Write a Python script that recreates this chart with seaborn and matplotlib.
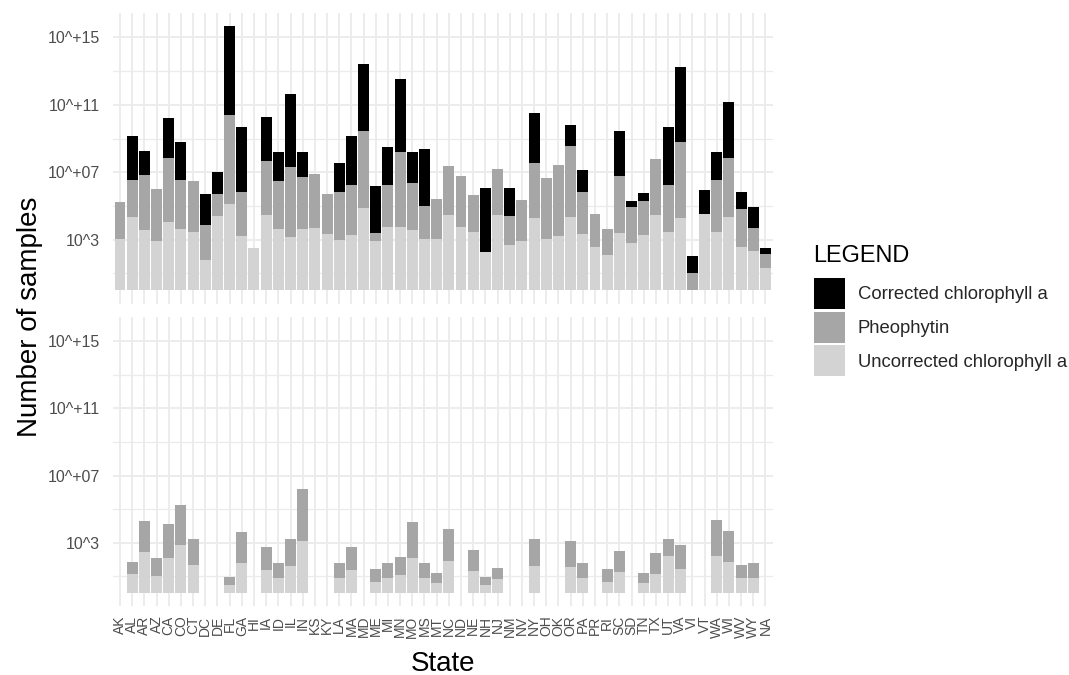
import numpy as np
import pandas as pd
import matplotlib
matplotlib.use("Agg")
import matplotlib.pyplot as plt
from matplotlib.patches import Patch
import seaborn as sns

# ---------------- data (log10 of sample counts per segment) ----------------
states = ["AK", "AL", "AR", "AZ", "CA", "CO", "CT", "DC", "DE", "FL", "GA", "HI",
          "IA", "ID", "IL", "IN", "KS", "KY", "LA", "MA", "MD", "ME", "MI", "MN",
          "MO", "MS", "MT", "NC", "ND", "NE", "NH", "NJ", "NM", "NV", "NY", "OH",
          "OK", "OR", "PA", "PR", "RI", "SC", "SD", "TN", "TX", "UT", "VA", "VI",
          "VT", "WA", "WI", "WV", "WY", "NA"]
nan = np.nan
# top panel
top_uncorrected = [3.03, 4.37, 3.58, 2.93, 4.07, 3.66, 3.48, 1.82, 4.43, 5.12, 3.22, 2.51,
                   4.49, 3.62, 3.16, 3.66, 3.72, 3.32, 2.99, 3.28, 4.88, 2.91, 3.76, 3.76,
                   3.56, 3.04, 3.03, 4.47, 3.76, 3.48, 2.26, 4.47, 2.69, 2.94, 4.27, 3.03,
                   3.22, 4.37, 3.32, 2.59, 2.08, 3.42, 2.81, 3.28, 4.45, 3.48, 4.29, nan,
                   4.55, 3.46, 4.37, 2.59, 2.33, 1.34]
top_pheophytin = [2.23, 2.16, 3.26, 3.06, 3.76, 2.90, 2.99, 2.04, 1.29, 5.27, 2.60, nan,
                  3.20, 2.85, 4.18, 3.08, 3.20, 2.40, 2.83, 2.95, 4.59, 0.47, 2.51, 4.43,
                  2.81, 1.96, 2.39, 2.89, 3.04, 2.16, nan, 2.71, 1.72, 2.40, 3.27, 3.62,
                  4.22, 4.21, 2.50, 1.92, 1.58, 3.35, 2.15, 2.02, 3.34, 2.77, 4.49, 1.01,
                  nan, 3.10, 3.46, 2.25, 1.39, 0.81]
top_corrected = [nan, 2.63, 1.43, nan, 2.38, 2.26, nan, 1.86, 1.28, 5.28, 3.89, nan,
                 2.58, 1.76, 4.31, 1.49, nan, nan, 1.73, 2.95, 3.98, 2.83, 2.22, 4.35,
                 1.82, 3.37, nan, nan, nan, nan, 3.79, nan, 1.64, nan, 2.96, nan,
                 nan, 1.23, 1.32, nan, nan, 2.70, 0.32, 0.49, nan, 3.42, 4.49, 1.01,
                 1.38, 1.63, 3.33, 0.99, 1.21, 0.34]
# bottom panel
bot_uncorrected = [nan, 1.13, 2.43, 1.03, 2.07, 2.87, 1.65, nan, nan, 0.48, 1.81, nan,
                   1.37, 0.90, 1.61, 3.12, nan, nan, 0.90, 1.37, nan, 0.68, 0.90, 1.09,
                   2.09, 0.90, 0.60, 1.91, nan, 1.33, 0.48, 0.80, nan, nan, 1.61, nan,
                   nan, 1.57, 0.90, nan, 0.68, 1.25, nan, 0.60, 1.15, 2.21, 1.45, nan,
                   nan, 2.21, 1.85, 0.86, 0.90, nan]
bot_pheophytin = [nan, 0.74, 1.85, 1.06, 2.01, 2.38, 1.59, nan, nan, 0.49, 1.83, nan,
                  1.36, 0.91, 1.63, 3.05, nan, nan, 0.91, 1.36, nan, 0.73, 0.91, 1.06,
                  2.13, 0.91, 0.58, 1.89, nan, 1.24, 0.49, 0.67, nan, nan, 1.63, nan,
                  nan, 1.55, 0.91, nan, 0.73, 1.26, nan, 0.59, 1.22, 1.01, 1.40, nan,
                  nan, 2.15, 1.87, 0.81, 0.91, nan]

legend_labels = ["Corrected chlorophyll a", "Pheophytin", "Uncorrected chlorophyll a"]
colors = {"Corrected chlorophyll a": "#000000",
          "Pheophytin": "#A6A6A6",
          "Uncorrected chlorophyll a": "#D3D3D3"}
ytick_vals = [3, 7, 11, 15]
ytick_labels = ["10^3", "10^+07", "10^+11", "10^+15"]
yminor_vals = [1, 5, 9, 13]

# ---------------- styling ----------------
sns.set_theme(style="white")
plt.rcParams["font.family"] = ["Liberation Sans", "DejaVu Sans"]

W, H = 1069, 675
fig = plt.figure(figsize=(W / 100, H / 100), dpi=100)

def fx(px):
    return px / W

def fy(py):
    return 1 - py / H

left, right = 112.7, 772.8
ax_top = fig.add_axes([fx(left), fy(303.5), fx(right - left), fy(13) - fy(303.5)])
ax_bot = fig.add_axes([fx(left), fy(606), fx(right - left), fy(317) - fy(606)])

grid_c = "#EBEBEB"


def stack_layers(unc, phe, cor=None):
    unc = np.array(unc, dtype=float)
    phe = np.array(phe, dtype=float)
    u0 = np.nan_to_num(unc)
    p0 = np.nan_to_num(phe)
    cum_u = np.where(np.isnan(unc), np.nan, u0)
    cum_p = np.where(np.isnan(phe), np.nan, u0 + p0)
    layers = []
    if cor is not None:
        cor = np.array(cor, dtype=float)
        c0 = np.nan_to_num(cor)
        cum_c = np.where(np.isnan(cor), np.nan, u0 + p0 + c0)
        layers.append(("Corrected chlorophyll a", cum_c))
    layers.append(("Pheophytin", cum_p))
    layers.append(("Uncorrected chlorophyll a", cum_u))
    return layers


def draw_panel(ax, layers):
    for name, vals in layers:
        df = pd.DataFrame({"State": states, "value": vals}).dropna()
        sns.barplot(data=df, x="State", y="value", order=states, color=colors[name],
                    width=0.9, saturation=1, errorbar=None, ax=ax, zorder=3,
                    linewidth=0)
    ax.set_xlim(-0.6, len(states) - 0.4)
    ax.set_ylim(-0.78, 16.45)
    ax.set_yticks(ytick_vals)
    ax.set_yticklabels(ytick_labels)
    ax.set_yticks(yminor_vals, minor=True)
    ax.set_xticks(range(len(states)))
    ax.grid(True, which="major", axis="both", color=grid_c, linewidth=1.3, zorder=0)
    ax.grid(True, which="minor", axis="y", color=grid_c, linewidth=0.9, zorder=0)
    ax.set_axisbelow(True)
    for s in ax.spines.values():
        s.set_visible(False)
    ax.tick_params(axis="both", which="both", length=0)
    ax.tick_params(axis="y", labelsize=11.5, labelcolor="#4D4D4D", pad=9)
    ax.set_xlabel("")
    ax.set_ylabel("")


draw_panel(ax_top, stack_layers(top_uncorrected, top_pheophytin, top_corrected))
draw_panel(ax_bot, stack_layers(bot_uncorrected, bot_pheophytin))

ax_top.set_xticklabels([])
ax_bot.set_xticklabels(states, rotation=90, fontsize=10, color="#4D4D4D")
ax_bot.tick_params(axis="x", pad=7)
for lab in ax_bot.get_xticklabels():
    lab.set_verticalalignment("top")
    lab.set_horizontalalignment("center")

fig.text(fx(30), fy(317), "Number of samples", rotation=90, fontsize=20,
         ha="center", va="center", color="black")
fig.text(fx(442.7), fy(664), "State", fontsize=20, ha="center", va="center",
         color="black")

# legend
fig.text(fx(813), fy(262.3), "LEGEND", fontsize=16.9, ha="left", va="baseline",
         color="black")
handles = [Patch(facecolor=colors[n], edgecolor="none", label=n) for n in legend_labels]
leg = fig.legend(handles=handles, loc="upper left", bbox_to_anchor=(fx(814), fy(277.7)),
                 frameon=False, fontsize=13.3,
                 handlelength=1.68, handleheight=2.2, labelspacing=0.16,
                 handletextpad=0.7, borderpad=0, borderaxespad=0)

fig.savefig("out.png", dpi=100)
